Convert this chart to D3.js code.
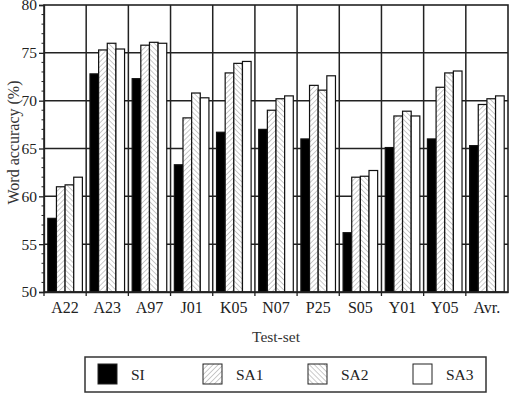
<!DOCTYPE html>
<html>
<head>
<meta charset="utf-8">
<script src="https://cdn.jsdelivr.net/npm/d3@7"></script>
<style>
  body { margin: 0; background: #fff; }
  svg text { font-family: 'Liberation Serif', 'Times New Roman', 'DejaVu Serif', serif; }
</style>
</head>
<body>
<div id="chart"></div>
<script>
const categories = ['A22', 'A23', 'A97', 'J01', 'K05', 'N07', 'P25', 'S05', 'Y01', 'Y05', 'Avr.'];
const seriesNames = ['SI', 'SA1', 'SA2', 'SA3'];
const SI  = [57.7, 72.8, 72.3, 63.3, 66.7, 67.0, 66.0, 56.2, 65.1, 66.0, 65.3];
const SA1 = [61.0, 75.3, 75.8, 68.2, 72.9, 69.0, 71.6, 62.0, 68.4, 71.4, 69.6];
const SA2 = [61.2, 76.0, 76.1, 70.8, 73.9, 70.2, 71.1, 62.1, 68.9, 72.9, 70.2];
const SA3 = [62.0, 75.4, 76.0, 70.3, 74.1, 70.5, 72.6, 62.7, 68.4, 73.1, 70.5];
const yTicks = [50, 55, 60, 65, 70, 75, 80];

const values = [SI, SA1, SA2, SA3];
const fills = ['#000', 'url(#hatchA)', 'url(#hatchB)', '#fff'];

const width = 513, height = 398;
const margin = { top: 5, right: 5, bottom: 106, left: 44 };
const innerWidth = width - margin.left - margin.right;
const innerHeight = height - margin.top - margin.bottom;

const svg = d3.select('#chart')
  .append('svg')
  .attr('width', width)
  .attr('height', height);

// hatch patterns
const defs = svg.append('defs');
[['hatchA', 45], ['hatchB', -45]].forEach(([id, angle]) => {
  const p = defs.append('pattern')
    .attr('id', id)
    .attr('patternUnits', 'userSpaceOnUse')
    .attr('width', 3.6)
    .attr('height', 3.6)
    .attr('patternTransform', `rotate(${angle})`);
  p.append('rect').attr('width', 3.6).attr('height', 3.6).attr('fill', '#fff');
  p.append('line')
    .attr('x1', 0).attr('y1', 0).attr('x2', 0).attr('y2', 3.6)
    .attr('stroke', '#a8a8a8')
    .attr('stroke-width', 1.2);
});

const g = svg.append('g')
  .attr('transform', `translate(${margin.left},${margin.top})`);

const x0 = d3.scaleBand()
  .domain(categories)
  .range([0, innerWidth])
  .padding(0);

const x1 = d3.scaleBand()
  .domain(seriesNames)
  .range([3.8, x0.bandwidth() - 3.8])
  .padding(0);

const y = d3.scaleLinear()
  .domain([50, 80])
  .range([innerHeight, 0]);

// grid
g.append('g')
  .selectAll('line')
  .data(yTicks.slice(1, -1))
  .enter().append('line')
  .attr('x1', 0).attr('x2', innerWidth)
  .attr('y1', d => y(d)).attr('y2', d => y(d))
  .attr('stroke', '#222')
  .attr('stroke-width', 1.5);

g.append('g')
  .selectAll('line')
  .data(categories.slice(1))
  .enter().append('line')
  .attr('x1', d => x0(d)).attr('x2', d => x0(d))
  .attr('y1', 0).attr('y2', innerHeight)
  .attr('stroke', '#222')
  .attr('stroke-width', 1.5);

// bars
values.forEach((vals, s) => {
  g.append('g')
    .selectAll('rect')
    .data(vals)
    .enter().append('rect')
    .attr('x', (d, i) => x0(categories[i]) + x1(seriesNames[s]))
    .attr('y', d => y(d))
    .attr('width', x1.bandwidth())
    .attr('height', d => innerHeight - y(d))
    .attr('fill', fills[s])
    .attr('stroke', '#111')
    .attr('stroke-width', 1.2);
});

// frame
g.append('rect')
  .attr('width', innerWidth)
  .attr('height', innerHeight)
  .attr('fill', 'none')
  .attr('stroke', '#222')
  .attr('stroke-width', 1.6);

// y axis
g.append('g')
  .attr('class', 'y-axis')
  .call(d3.axisLeft(y).tickValues(yTicks).tickSize(5).tickPadding(2));

// minor ticks
g.append('g')
  .selectAll('line')
  .data(d3.range(50, 81, 1).filter(v => v % 5))
  .enter().append('line')
  .attr('x1', -2.5).attr('x2', 0)
  .attr('y1', d => y(d)).attr('y2', d => y(d))
  .attr('stroke', '#222')
  .attr('stroke-width', 1);

// x axis
g.append('g')
  .attr('class', 'x-axis')
  .attr('transform', `translate(0,${innerHeight})`)
  .call(d3.axisBottom(x0).tickSize(0).tickPadding(10));
g.append('g')
  .attr('transform', `translate(0,${innerHeight})`)
  .selectAll('line')
  .data(categories)
  .enter().append('line')
  .attr('x1', d => x0(d)).attr('x2', d => x0(d))
  .attr('y1', 0).attr('y2', 4)
  .attr('stroke', '#222')
  .attr('stroke-width', 1.3);

g.selectAll('.x-axis, .y-axis').attr('font-family', null);
g.selectAll('.x-axis .tick text')
  .style('font-size', '16px')
  .attr('fill', '#222');
g.selectAll('.y-axis .tick text')
  .style('font-size', '15.5px')
  .attr('fill', '#222');
g.selectAll('.domain, .tick line')
  .attr('stroke', '#222')
  .attr('stroke-width', 1.3);

// axis titles
svg.append('text')
  .attr('transform', `translate(19,${margin.top + innerHeight / 2 - 6}) rotate(-90)`)
  .attr('text-anchor', 'middle')
  .style('font-size', '16px')
  .attr('fill', '#333')
  .text('Word accuracy (%)');

svg.append('text')
  .attr('x', margin.left + innerWidth / 2)
  .attr('y', 342)
  .attr('text-anchor', 'middle')
  .style('font-size', '15.5px')
  .attr('fill', '#333')
  .text('Test-set');

// legend
const legend = svg.append('g').attr('transform', 'translate(85,357)');
legend.append('rect')
  .attr('width', 401)
  .attr('height', 35)
  .attr('fill', '#fff')
  .attr('stroke', '#333')
  .attr('stroke-width', 1.5);

const items = legend.selectAll('.legend-item')
  .data(seriesNames)
  .enter().append('g')
  .attr('class', 'legend-item')
  .attr('transform', (d, i) => `translate(${13 + i * 105},7)`);

items.append('rect')
  .attr('width', 19)
  .attr('height', 20)
  .attr('fill', (d, i) => fills[i])
  .attr('stroke', '#222')
  .attr('stroke-width', 1);

items.append('text')
  .attr('x', 33)
  .attr('y', 15.5)
  .style('font-size', '15.5px')
  .attr('fill', '#222')
  .text(d => d);
</script>
</body>
</html>
